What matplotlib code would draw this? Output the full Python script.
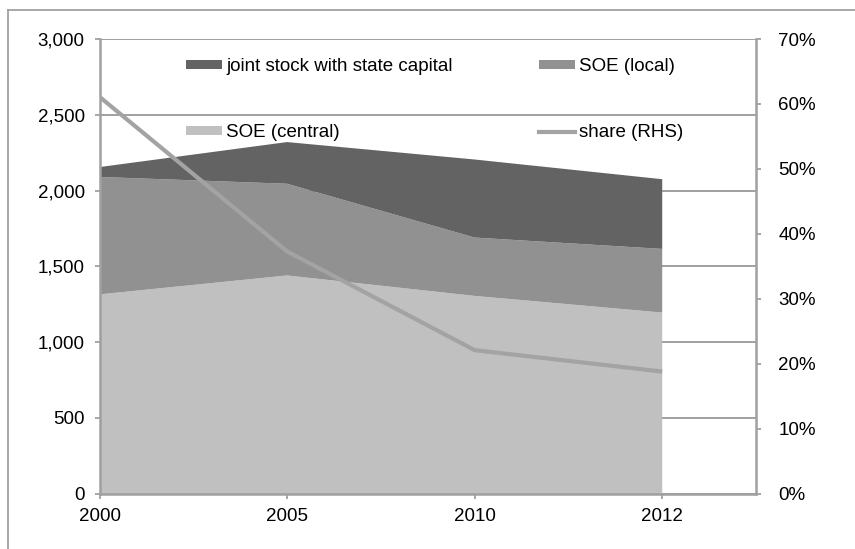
import matplotlib
matplotlib.use("Agg")
import matplotlib.pyplot as plt
from matplotlib.patches import Patch
from matplotlib.lines import Line2D
from matplotlib.ticker import FuncFormatter, FixedLocator

plt.rcParams["font.family"] = ["Liberation Sans", "DejaVu Sans"]

# Data
years = ["2000", "2005", "2010", "2012"]
soe_central = [1315, 1440, 1305, 1195]
soe_local = [775, 605, 385, 420]
joint_stock = [65, 275, 515, 460]
share_rhs = [61.1, 37.3, 22.1, 18.8]

c_joint = "#636363"
c_local = "#919191"
c_central = "#c0c0c0"
c_share = "#a3a3a3"
c_axis = "#a0a0a0"
fs = 13.5

W, H = 855, 549
fig = plt.figure(figsize=(W / 100, H / 100), dpi=100)

# outer frame (left and top edges)
fig.add_artist(Line2D([8 / W, 8 / W], [0, 1 - 10 / H], transform=fig.transFigure,
                      color=c_axis, lw=1.3))
fig.add_artist(Line2D([8 / W, 1], [1 - 10 / H, 1 - 10 / H], transform=fig.transFigure,
                      color=c_axis, lw=1.3))

left, right, bottom, top = 99.5, 756, 493.7, 39
ax = fig.add_axes([left / W, 1 - bottom / H, (right - left) / W, (bottom - top) / H])
x = list(range(len(years)))

ax.stackplot(x, soe_central, soe_local, joint_stock,
             colors=[c_central, c_local, c_joint], linewidth=0, zorder=2)
ax.set_xlim(0, 3.5)
ax.set_ylim(0, 3000)
ax.yaxis.set_major_locator(FixedLocator(range(0, 3001, 500)))
ax.yaxis.set_major_formatter(FuncFormatter(lambda v, p: f"{int(v):,}"))
ax.grid(axis="y", color=c_axis, lw=1.4, zorder=0)
ax.set_axisbelow(True)
ax.set_xticks(x)
ax.set_xticklabels(years)
for s in ["top", "right"]:
    ax.spines[s].set_visible(False)
for s in ["left", "bottom"]:
    ax.spines[s].set_color(c_axis)
    ax.spines[s].set_linewidth(1.8)
    ax.spines[s].set_zorder(3)
ax.tick_params(axis="y", length=3.6, width=1.3, color=c_axis, pad=7, labelsize=fs)
ax.tick_params(axis="x", length=3.6, width=1.3, color=c_axis, pad=7, labelsize=fs)

ax2 = ax.twinx()
ax2.plot(x, share_rhs, color=c_share, lw=3, solid_capstyle="butt", zorder=3)
ax2.set_ylim(0, 70)
ax2.set_yticks(range(0, 71, 10))
ax2.yaxis.set_major_formatter(FuncFormatter(lambda v, p: f"{int(v)}%"))
for s in ["top", "left", "bottom"]:
    ax2.spines[s].set_visible(False)
ax2.spines["right"].set_color(c_axis)
ax2.spines["right"].set_linewidth(1.8)
ax2.tick_params(axis="y", length=3.6, width=1.3, color=c_axis, pad=12.5, labelsize=fs)

handles = [
    Patch(facecolor=c_joint, edgecolor="none", label="joint stock with state capital"),
    Patch(facecolor=c_central, edgecolor="none", label="SOE (central)"),
    Patch(facecolor=c_local, edgecolor="none", label="SOE (local)"),
    Line2D([], [], color=c_share, lw=3, label="share (RHS)"),
]
fig.legend(handles=handles, ncol=2, loc="upper left",
           bbox_to_anchor=(186 / W, 1 - 58 / H), frameon=False,
           fontsize=fs, handlelength=1.9, handleheight=0.33, handletextpad=0.25,
           columnspacing=4.6, labelspacing=2.62, borderpad=0, borderaxespad=0)

fig.savefig("out.png", dpi=100)
